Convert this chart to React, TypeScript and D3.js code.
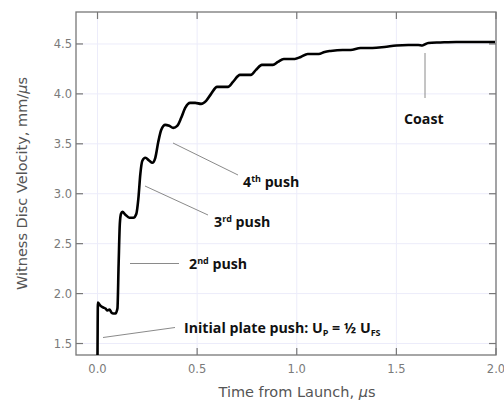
import React from "react";
import * as d3 from "d3";

const timeUs = [
  0.0, 0.002, 0.01, 0.02, 0.03, 0.04, 0.05, 0.06, 0.07, 0.08, 0.09, 0.1, 0.106, 0.112, 0.118, 0.125,
  0.14, 0.16, 0.18, 0.195, 0.205, 0.215, 0.225, 0.24, 0.26, 0.275, 0.29, 0.305, 0.32, 0.34, 0.36,
  0.38, 0.4, 0.42, 0.44, 0.465, 0.49, 0.52, 0.545, 0.57, 0.6, 0.63, 0.655, 0.68, 0.715, 0.745,
  0.77, 0.795, 0.825, 0.86, 0.88, 0.905, 0.935, 0.99, 1.02, 1.055, 1.11, 1.14, 1.17, 1.23, 1.27,
  1.32, 1.38, 1.44, 1.5, 1.56, 1.61, 1.63, 1.66, 1.72, 1.8, 1.9, 1.995,
];
const velocity = [
  1.385, 1.91, 1.89, 1.87, 1.86, 1.85, 1.83, 1.84, 1.81, 1.8, 1.8, 1.85, 2.3, 2.7, 2.8, 2.82,
  2.79, 2.76, 2.76, 2.8, 2.95, 3.2, 3.33, 3.36, 3.33, 3.31, 3.36, 3.52, 3.64, 3.69, 3.68,
  3.66, 3.68, 3.76, 3.86, 3.91, 3.91, 3.9, 3.93, 4.0, 4.07, 4.07, 4.07, 4.12, 4.19, 4.19,
  4.19, 4.24, 4.29, 4.29, 4.29, 4.32, 4.35, 4.35, 4.37, 4.4, 4.4, 4.42, 4.43, 4.44, 4.44,
  4.46, 4.46, 4.47, 4.485, 4.49, 4.49, 4.485, 4.51, 4.515, 4.52, 4.52, 4.52,
];
const xTicks = [0.0, 0.5, 1.0, 1.5, 2.0];
const yTicks = [1.5, 2.0, 2.5, 3.0, 3.5, 4.0, 4.5];

const W = 504;
const H = 403;
const L = 76, R = 496, T = 12, B = 355;

export default function App() {
  const x = d3.scaleLinear().domain([-0.108, 2.0]).range([L, R]);
  const y = d3.scaleLinear().domain([1.385, 4.82]).range([B, T]);
  const pts: [number, number][] = timeUs.map((t, i) => [t, velocity[i]]);
  const line = d3
    .line<[number, number]>()
    .x((d) => x(d[0]))
    .y((d) => y(d[1]))
    .curve(d3.curveMonotoneX);

  const tickFont = "'DejaVu Sans', sans-serif";
  const annFont = "'Open Sans', sans-serif";
  const gray = "#8a8a8a";
  const tl = 7;

  return (
    <svg width={W} height={H} style={{ position: "absolute", left: 0, top: 0, background: "#fff" }}>
      {/* grid */}
      {xTicks.map((t) => (
        <line key={"gx" + t} x1={x(t)} x2={x(t)} y1={T} y2={B} stroke="#ececfa" strokeWidth={1} />
      ))}
      {yTicks.map((t) => (
        <line key={"gy" + t} x1={L} x2={R} y1={y(t)} y2={y(t)} stroke="#ececfa" strokeWidth={1} />
      ))}
      {/* ticks */}
      {xTicks.map((t) => (
        <g key={"tx" + t}>
          <line x1={x(t)} x2={x(t)} y1={B} y2={B - tl} stroke="#777" strokeWidth={1.2} />
          <line x1={x(t)} x2={x(t)} y1={T} y2={T + tl} stroke="#777" strokeWidth={1.2} />
          <text x={x(t)} y={373} textAnchor="middle" fontFamily={tickFont} fontSize={11.5} fill="#7a7a7a">
            {t.toFixed(1)}
          </text>
        </g>
      ))}
      {yTicks.map((t) => (
        <g key={"ty" + t}>
          <line x1={L} x2={L + tl} y1={y(t)} y2={y(t)} stroke="#777" strokeWidth={1.2} />
          <line x1={R} x2={R - tl} y1={y(t)} y2={y(t)} stroke="#777" strokeWidth={1.2} />
          <text x={72} y={y(t) + 4} textAnchor="end" fontFamily={tickFont} fontSize={11.5} fill="#7a7a7a">
            {t.toFixed(1)}
          </text>
        </g>
      ))}
      <rect x={L} y={T} width={R - L} height={B - T} fill="none" stroke="#777" strokeWidth={1.3} />

      {/* leader lines */}
      <line x1={425} y1={53} x2={425} y2={98} stroke={gray} strokeWidth={1} />
      <line x1={173} y1={143} x2={238} y2={175} stroke={gray} strokeWidth={1} />
      <line x1={145} y1={186} x2={208} y2={215} stroke={gray} strokeWidth={1} />
      <line x1={130} y1={263.5} x2={179} y2={263.5} stroke={gray} strokeWidth={1} />
      <line x1={103} y1={337.5} x2={175} y2={327.5} stroke={gray} strokeWidth={1} />

      {/* data */}
      <path d={line(pts) || ""} fill="none" stroke="#000" strokeWidth={2.6} strokeLinejoin="round" />

      {/* annotations */}
      <g fontFamily={annFont} fontWeight="bold" fontSize={14.2} fill="#111">
        <text x={404} y={124}>Coast</text>
        <text x={243} y={187}>
          4<tspan fontSize={9} dy={-5}>th</tspan>
          <tspan dy={5}> push</tspan>
        </text>
        <text x={214} y={227}>
          3<tspan fontSize={9} dy={-5}>rd</tspan>
          <tspan dy={5}> push</tspan>
        </text>
        <text x={189} y={269}>
          2<tspan fontSize={9} dy={-5}>nd</tspan>
          <tspan dy={5}> push</tspan>
        </text>
        <text x={184} y={333}>
          Initial plate push: U<tspan fontSize={9} dy={3}>P</tspan>
          <tspan dy={-3}> = ½ U</tspan>
          <tspan fontSize={9} dy={3}>FS</tspan>
        </text>
      </g>

      {/* axis titles */}
      <text x={297} y={397} textAnchor="middle" fontFamily={tickFont} fontSize={14.5} fill="#555">
        Time from Launch,  <tspan fontStyle="italic">μ</tspan>s
      </text>
      <text
        transform={`translate(27,183.5) rotate(-90)`}
        textAnchor="middle"
        fontFamily={tickFont}
        fontSize={14.5}
        fill="#555"
      >
        Witness Disc Velocity,  mm/<tspan fontStyle="italic">μ</tspan>s
      </text>
    </svg>
  );
}
